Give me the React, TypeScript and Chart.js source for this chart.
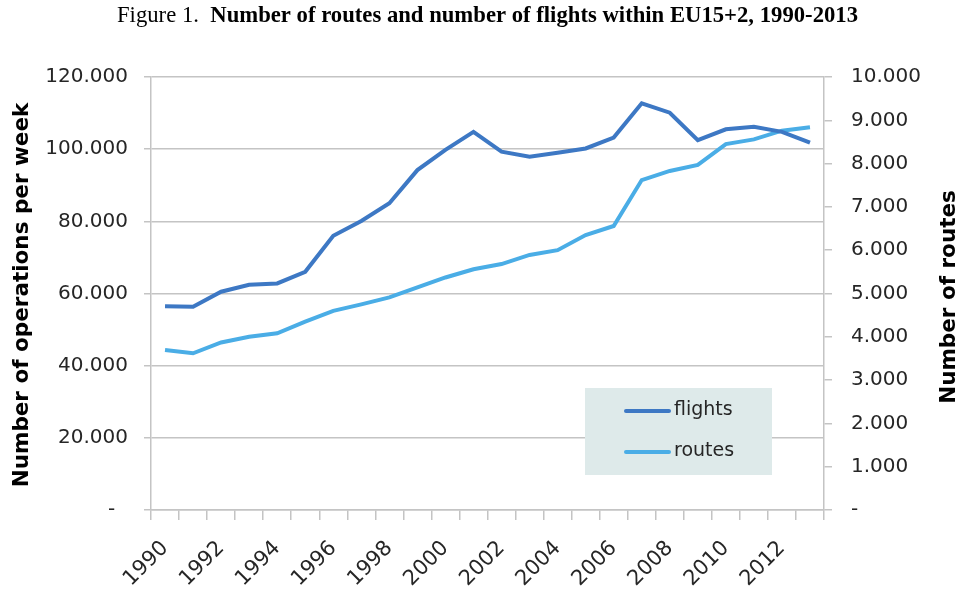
import { useEffect, useRef } from 'react';
import { Chart, registerables } from 'chart.js';

Chart.register(...registerables);

const years = ['1990','1991','1992','1993','1994','1995','1996','1997','1998','1999','2000','2001','2002','2003','2004','2005','2006','2007','2008','2009','2010','2011','2012','2013'];
const flights = [56500, 56300, 60500, 62400, 62800, 66000, 76000, 80100, 85000, 94200, 99800, 104800, 99300, 97900, 99000, 100200, 103200, 112700, 110100, 102500, 105500, 106200, 104800, 101800];
const routes = [3695, 3620, 3870, 4000, 4080, 4350, 4600, 4750, 4910, 5140, 5370, 5560, 5680, 5890, 6000, 6350, 6560, 7620, 7830, 7970, 8450, 8560, 8760, 8840];
const leftTickLabels = ['-  ', '20.000', '40.000', '60.000', '80.000', '100.000', '120.000'];
const rightTickLabels = ['-', '1.000', '2.000', '3.000', '4.000', '5.000', '6.000', '7.000', '8.000', '9.000', '10.000'];
const seriesNames = ['flights', 'routes'];
const titlePrefix = 'Figure 1.  ';
const titleMain = 'Number of routes and number of flights within EU15+2, 1990-2013';
const leftAxisTitle = 'Number of operations per week';
const rightAxisTitle = 'Number of routes';

const FLIGHT_COLOR = '#3D78C4';
const ROUTE_COLOR = '#4AADE6';
const GRID = '#c4c4c4';
const TEXT = '#262626';

const decorPlugin = {
  id: 'decor',
  afterDraw(chart: any) {
    const ctx = chart.ctx as CanvasRenderingContext2D;
    const area = chart.chartArea;
    ctx.save();
    // Title
    ctx.fillStyle = '#000';
    ctx.textBaseline = 'alphabetic';
    ctx.font = '23px "Liberation Serif", serif';
    const w1 = ctx.measureText(titlePrefix).width;
    ctx.font = 'bold 23px "Liberation Serif", serif';
    const w2 = ctx.measureText(titleMain).width;
    const target = 741;
    const sx = target / (w1 + w2);
    ctx.save();
    ctx.translate(117, 22);
    ctx.scale(sx, 1);
    ctx.font = '23px "Liberation Serif", serif';
    ctx.textAlign = 'left';
    ctx.fillText(titlePrefix, 0, 0);
    ctx.font = 'bold 23px "Liberation Serif", serif';
    ctx.fillText(titleMain, w1, 0);
    ctx.restore();

    // Axis titles
    ctx.fillStyle = '#000';
    ctx.font = 'bold 21.5px "DejaVu Sans", sans-serif';
    ctx.textAlign = 'center';
    ctx.textBaseline = 'middle';
    ctx.save();
    ctx.translate(22, 295);
    ctx.rotate(-Math.PI / 2);
    ctx.fillText(leftAxisTitle, 0, 0);
    ctx.restore();
    ctx.save();
    ctx.translate(949, 297);
    ctx.rotate(-Math.PI / 2);
    ctx.fillText(rightAxisTitle, 0, 0);
    ctx.restore();

    // Legend box
    const bx = area.left + 434, by = area.top + 311, bw = 187, bh = 87;
    ctx.fillStyle = '#DEEAEA';
    ctx.fillRect(bx, by, bw, bh);
    const colors = [FLIGHT_COLOR, ROUTE_COLOR];
    ctx.lineWidth = 4;
    ctx.lineCap = 'round';
    ctx.font = '19px "DejaVu Sans", sans-serif';
    ctx.textAlign = 'left';
    ctx.textBaseline = 'middle';
    seriesNames.forEach((name, i) => {
      const yy = by + 23 + i * 41;
      ctx.strokeStyle = colors[i];
      ctx.beginPath();
      ctx.moveTo(bx + 41, yy);
      ctx.lineTo(bx + 84, yy);
      ctx.stroke();
      ctx.fillStyle = TEXT;
      ctx.fillText(name, bx + 89, yy - 1);
    });
    ctx.restore();
  },
};

export default function App() {
  const ref = useRef<HTMLCanvasElement | null>(null);
  useEffect(() => {
    document.body.style.margin = '0';
    if (!ref.current) return;
    const chart = new Chart(ref.current, {
      type: 'line',
      data: {
        labels: years,
        datasets: [
          { label: seriesNames[0], data: flights, borderColor: FLIGHT_COLOR, backgroundColor: FLIGHT_COLOR, borderWidth: 4, pointRadius: 0, tension: 0, yAxisID: 'y' },
          { label: seriesNames[1], data: routes, borderColor: ROUTE_COLOR, backgroundColor: ROUTE_COLOR, borderWidth: 4, pointRadius: 0, tension: 0, yAxisID: 'y1' },
        ],
      },
      options: {
        responsive: false,
        animation: false,
        devicePixelRatio: 1,
        layout: { padding: { top: 77, left: 0, right: 0, bottom: 0 } },
        plugins: { legend: { display: false }, tooltip: { enabled: false }, title: { display: false } },
        scales: {
          x: {
            type: 'category',
            offset: true,
            grid: { offset: true, drawOnChartArea: false, color: GRID, lineWidth: 1.5, tickLength: 10 },
            border: { display: true, color: GRID, width: 1.5 },
            ticks: {
              autoSkip: false,
              maxRotation: 45,
              minRotation: 45,
              padding: 16,
              color: TEXT,
              font: { family: '"DejaVu Sans", sans-serif', size: 21 },
              callback: (_v: any, i: number) => (i % 2 === 0 ? years[i] : ''),
            },
            afterFit: (s: any) => { s.height = 84; },
          },
          y: {
            position: 'left',
            min: 0,
            max: 120000,
            ticks: {
              stepSize: 20000,
              padding: 16,
              color: TEXT,
              font: { family: '"DejaVu Sans", sans-serif', size: 20 },
              callback: (_v: any, i: number) => leftTickLabels[i],
            },
            grid: { color: GRID, lineWidth: 1.5, tickLength: 7 },
            border: { display: true, color: GRID, width: 1.5 },
            afterFit: (s: any) => { s.width = 151; },
          },
          y1: {
            position: 'right',
            min: 0,
            max: 10000,
            ticks: {
              stepSize: 1000,
              padding: 19,
              color: TEXT,
              font: { family: '"DejaVu Sans", sans-serif', size: 20 },
              callback: (_v: any, i: number) => rightTickLabels[i],
            },
            grid: { drawOnChartArea: false, color: GRID, lineWidth: 1.5, tickLength: 8 },
            border: { display: true, color: GRID, width: 1.5 },
            afterFit: (s: any) => { s.width = 137; },
          },
        },
      },
      plugins: [decorPlugin],
    });
    return () => chart.destroy();
  }, []);
  return (
    <div style={{ width: 961, height: 594, background: '#fff' }}>
      <canvas ref={ref} width={961} height={594} />
    </div>
  );
}
